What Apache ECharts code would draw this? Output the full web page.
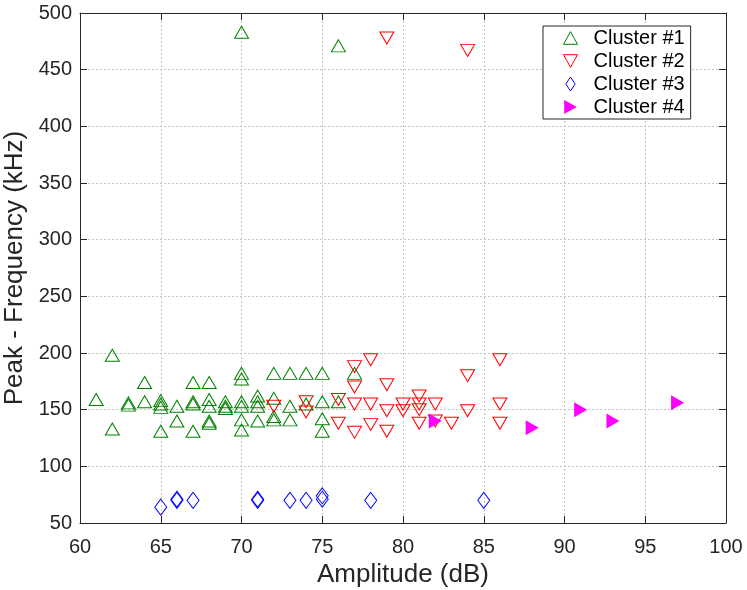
<!DOCTYPE html>
<html>
<head>
<meta charset="utf-8">
<script src="https://cdn.jsdelivr.net/npm/echarts@6/dist/echarts.min.js"></script>
<style>
  html, body { margin: 0; padding: 0; background: #fff; }
  #chart { width: 747px; height: 590px; }
</style>
</head>
<body>
<div id="chart"></div>
<script>
// Cluster #1
const c1Amp  = [61, 62, 62, 63, 63, 64, 64, 65, 65, 65, 65, 66, 66, 67, 67, 67, 67, 68, 68, 68, 68, 68,
                69, 69, 69, 70, 70, 70, 70, 70, 70, 70, 71, 71, 71, 71, 72, 72, 72, 72, 73, 73, 73,
                74, 74, 75, 75, 75, 75, 76, 76, 77];
const c1Freq = [159, 198, 133, 156, 154, 174, 157, 158, 155, 152, 131, 153, 140, 174, 157, 155, 131, 174, 159, 153, 140, 138,
                157, 153, 151, 483, 182, 177, 157, 153, 141, 132, 162, 157, 153, 140, 182, 160, 144, 141, 182, 153, 141,
                182, 155, 182, 157, 142, 131, 471, 157, 182];
// Cluster #2
const c2Amp  = [72, 74, 74, 76, 76, 77, 77, 77, 77, 78, 78, 78, 79, 79, 79, 79, 80, 80, 81, 81, 81, 81,
                82, 82, 83, 84, 84, 84, 86, 86, 86];
const c2Freq = [153, 157, 148, 159, 138, 188, 170, 155, 130, 194, 155, 137, 478, 172, 149, 131, 155, 149, 162, 155, 150, 138,
                155, 140, 138, 467, 180, 149, 194, 155, 138];
// Cluster #3
const c3Amp  = [65, 66, 66, 67, 71, 71, 73, 74, 75, 75, 78, 85];
const c3Freq = [64, 70, 71, 70, 70, 71, 70, 70, 74, 71, 70, 70];
// Cluster #4
const c4Amp  = [82, 88, 91, 93, 97];
const c4Freq = [140, 134, 150, 140, 156];

const clusterNames = ['Cluster #1', 'Cluster #2', 'Cluster #3', 'Cluster #4'];

const xTicks = { min: 60, max: 100, interval: 5 };
const yTicks = { min: 50, max: 500, interval: 50 };

const pairs = (xs, ys) => xs.map((x, i) => [x, ys[i]]);

const FONT = 'Liberation Sans, Arial, Helvetica, sans-serif';
const INK = '#262626';

// marker outlines for the legend keys
const ICON_UP    = 'path://M5,0 L10,9 L0,9 Z';
const ICON_DOWN  = 'path://M0,0 L10,0 L5,9 Z';
const ICON_DIAM  = 'path://M4,0 L8,6 L4,12 L0,6 Z';
const ICON_RIGHT = 'path://M0,0 L9,5 L0,10 Z';

const chart = echarts.init(document.getElementById('chart'), null, { renderer: 'canvas' });

const baseX = {
  type: 'value', min: xTicks.min, max: xTicks.max, interval: xTicks.interval,
  axisLine: { show: true, lineStyle: { color: INK, width: 1 } },
  axisTick: { show: true, inside: true, length: 7, lineStyle: { color: INK } },
};
const baseY = {
  type: 'value', min: yTicks.min, max: yTicks.max, interval: yTicks.interval,
  axisLine: { show: true, lineStyle: { color: INK, width: 1 } },
  axisTick: { show: true, inside: true, length: 7, lineStyle: { color: INK } },
};
const gridLine = { show: true, lineStyle: { color: '#c4c4c4', type: [2, 2], width: 1 } };

chart.setOption({
  animation: false,
  backgroundColor: '#fff',
  grid: { left: 80, right: 21, top: 13, bottom: 67, containLabel: false, outerBoundsMode: 'none' },
  legend: {
    orient: 'vertical', left: 543, top: 26,
    padding: [2, 6, 2, 20],
    borderColor: INK, borderWidth: 1, backgroundColor: '#fff',
    itemWidth: 14, itemHeight: 14, itemGap: 3,
    textStyle: { fontFamily: FONT, fontSize: 20, lineHeight: 20, color: '#000', padding: [0, 0, 0, 11] },
    data: [
      { name: clusterNames[0], icon: ICON_UP, itemStyle: { color: 'rgba(0,0,0,0)', borderColor: '#008000', borderWidth: 1 } },
      { name: clusterNames[1], icon: ICON_DOWN, itemStyle: { color: 'rgba(0,0,0,0)', borderColor: '#ff0000', borderWidth: 1 } },
      { name: clusterNames[2], icon: ICON_DIAM, itemStyle: { color: 'rgba(0,0,0,0)', borderColor: '#0000ff', borderWidth: 1 } },
      { name: clusterNames[3], icon: ICON_RIGHT, itemStyle: { color: '#ff00ff', borderWidth: 0 } }
    ]
  },
  xAxis: [
    Object.assign({}, baseX, {
      position: 'bottom',
      name: 'Amplitude (dB)', nameLocation: 'middle', nameGap: 39,
      nameTextStyle: { fontFamily: FONT, fontSize: 26, color: INK, verticalAlign: 'top' },
      axisLabel: { fontFamily: FONT, fontSize: 20, color: INK, margin: 14 },
      splitLine: gridLine
    }),
    Object.assign({}, baseX, {
      position: 'top', axisLabel: { show: false }, splitLine: { show: false }
    })
  ],
  yAxis: [
    Object.assign({}, baseY, {
      position: 'left',
      name: 'Peak - Frequency (kHz)', nameLocation: 'middle', nameGap: 52,
      nameTextStyle: { fontFamily: FONT, fontSize: 26, color: INK },
      axisLabel: { fontFamily: FONT, fontSize: 20, color: INK, margin: 8 },
      splitLine: gridLine
    }),
    Object.assign({}, baseY, {
      position: 'right', axisLabel: { show: false }, splitLine: { show: false }
    })
  ],
  series: [
    {
      name: clusterNames[0], type: 'scatter', xAxisIndex: 0, yAxisIndex: 0,
      symbol: 'triangle', symbolSize: [14, 12],
      itemStyle: { color: 'rgba(0,0,0,0)', borderColor: '#008000', borderWidth: 1, opacity: 1 },
      data: pairs(c1Amp, c1Freq)
    },
    {
      name: clusterNames[1], type: 'scatter', xAxisIndex: 0, yAxisIndex: 0,
      symbol: 'triangle', symbolRotate: 180, symbolSize: [14, 12],
      itemStyle: { color: 'rgba(0,0,0,0)', borderColor: '#ff0000', borderWidth: 1, opacity: 1 },
      data: pairs(c2Amp, c2Freq)
    },
    {
      name: clusterNames[2], type: 'scatter', xAxisIndex: 0, yAxisIndex: 0,
      symbol: 'diamond', symbolSize: [12, 16],
      itemStyle: { color: 'rgba(0,0,0,0)', borderColor: '#0000ff', borderWidth: 1, opacity: 1 },
      data: pairs(c3Amp, c3Freq)
    },
    {
      name: clusterNames[3], type: 'scatter', xAxisIndex: 0, yAxisIndex: 0,
      symbol: 'triangle', symbolRotate: -90, symbolSize: [15, 13],
      itemStyle: { color: '#ff00ff', borderColor: '#ff00ff', borderWidth: 0, opacity: 1 },
      data: pairs(c4Amp, c4Freq)
    }
  ]
});
</script>
</body>
</html>
